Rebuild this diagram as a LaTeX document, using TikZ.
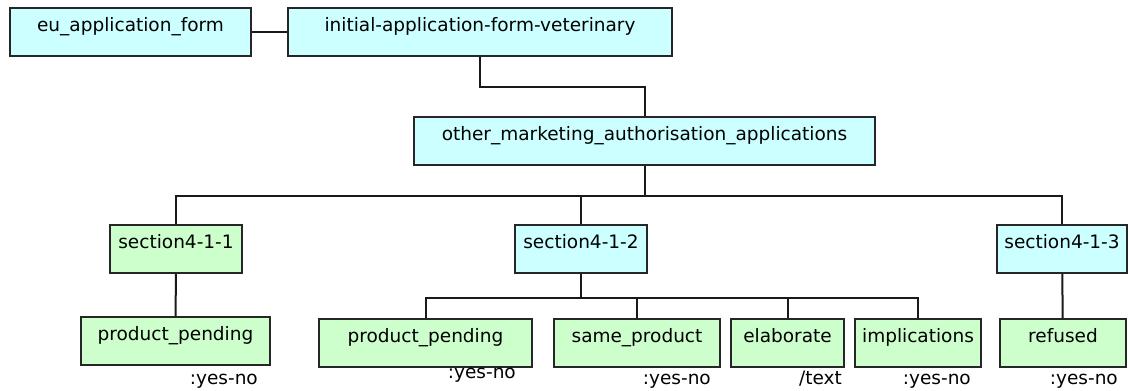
\documentclass[tikz,border=0pt]{standalone}
\usepackage{fontspec}
\setmainfont{DejaVu Sans}
\usepackage{xcolor}
\usepackage{tikz}
\usetikzlibrary{positioning, calc}

\definecolor{cyanbox}{HTML}{CCFFFF}
\definecolor{greenbox}{HTML}{CCFFCC}

\begin{document}
\begin{tikzpicture}[x=1pt, y=-1pt,
    every node/.style={font=\fontsize{18.5}{22}\selectfont},
    box/.style={draw=black!85, line width=2pt, rectangle, anchor=north west,
      inner xsep=0pt, inner ysep=0pt, text height=23pt, text depth=25pt},
    cbox/.style={box, fill=cyanbox},
    gbox/.style={box, fill=greenbox},
    kind/.style={anchor=base east, inner sep=0pt},
    link/.style={line width=2pt, black!90}]
  \useasboundingbox (0,0) rectangle (1128,391);
  % top row
  \node[cbox, minimum width=241pt] (eu) at (9,7) {eu\_application\_form};
  \node[cbox, minimum width=384pt] (initial) at (287,7) {initial-application-form-veterinary};
  \node[cbox, minimum width=461pt] (other) at (413,116) {other\_marketing\_authorisation\_applications};
  % sections
  \node[gbox, minimum width=132pt] (sec1) at (109,224) {section4-1-1};
  \node[cbox, minimum width=132pt] (sec2) at (514,224) {section4-1-2};
  \node[cbox, minimum width=130pt] (sec3) at (996,224) {section4-1-3};
  % leaves
  \node[gbox, minimum width=189pt] (pending1) at (80,316) {product\_pending};
  \node[gbox, minimum width=213pt] (pending2) at (318,318) {product\_pending};
  \node[gbox, minimum width=166pt] (same) at (553,318) {same\_product};
  \node[gbox, minimum width=113pt] (elab) at (730,318) {elaborate};
  \node[gbox, minimum width=126pt] (impl) at (854,318) {implications};
  \node[gbox, minimum width=126pt] (refused) at (999,318) {refused};
  % types
  \node[kind] (pending1-t) at ([shift={(-13,18)}]pending1.south east) {:yes-no};
  \node[kind] (pending2-t) at ([shift={(-17,10)}]pending2.south east) {:yes-no};
  \node[kind] (same-t) at ([shift={(-10,16)}]same.south east) {:yes-no};
  \node[kind] (elab-t) at ([shift={(-3,16)}]elab.south east) {/text};
  \node[kind] (impl-t) at ([shift={(-11,16)}]impl.south east) {:yes-no};
  \node[kind] (refused-t) at ([shift={(-9,16)}]refused.south east) {:yes-no};
  % connectors
  \draw[link] (eu) -- (initial);
  \draw[link] (initial.south) -- ++(0,30) -| (other.north);
  \foreach \s in {sec1, sec2, sec3}
    \draw[link] (other.south) -- ++(0,30) -| (\s.north);
  \draw[link] (sec1) -- (pending1);
  \foreach \c in {pending2, same, elab, impl}
    \draw[link] (sec2.south) -- ++(0,24) -| (\c.north);
  \draw[link] (sec3) -- (refused);
\end{tikzpicture}
\end{document}
